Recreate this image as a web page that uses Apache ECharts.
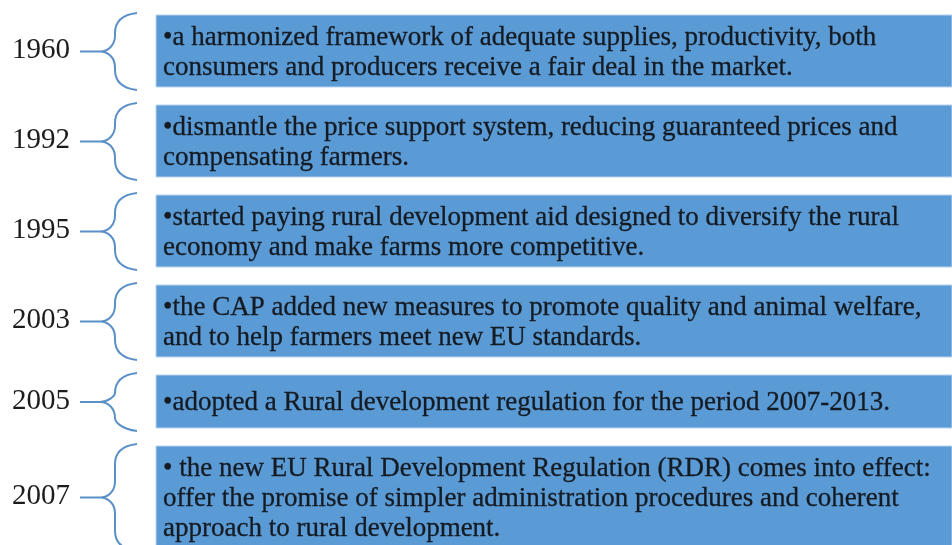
<!DOCTYPE html>
<html>
<head>
<meta charset="utf-8">
<script src="https://cdn.jsdelivr.net/npm/echarts@6/dist/echarts.min.js"></script>
<style>
  html, body { margin: 0; padding: 0; background: #fff; }
  #chart { width: 952px; height: 545px; }
</style>
</head>
<body>
<div id="chart"></div>
<script>
// 时间轴数据
const years = ['1960', '1992', '1995', '2003', '2005', '2007'];
const events = [
    '•a harmonized framework of adequate supplies, productivity, both\nconsumers and producers receive a fair deal in the market.',
    '•dismantle the price support system, reducing guaranteed prices and\ncompensating farmers.',
    '•started paying rural development aid designed to diversify the rural\neconomy and make farms more competitive.',
    '•the CAP added new measures to promote quality and animal welfare,\nand to help farmers meet new EU standards.',
    '•adopted a Rural development regulation for the period 2007-2013.',
    '• the new EU Rural Development Regulation (RDR) comes into effect:\noffer the promise of simpler administration procedures and coherent\napproach to rural development.'
];

// 布局（以像素为单位的坐标轴）
const W = 952, H = 545;
const BOX_LEFT = 156, BOX_RIGHT = 952, GAP = 18, FIRST_TOP = 15, LINE_H = 30;
const boxHeight = (n) => n === 1 ? 53 : LINE_H * n + 12;

const tops = [];
const heights = [];
let cur = FIRST_TOP;
events.forEach(t => {
    const h = boxHeight(t.split('\n').length);
    tops.push(cur);
    heights.push(h);
    cur += h + GAP;
});

// 花括号路径
function bracePath(api, yt, yb) {
    const yc = (yt + yb) / 2;
    const P = (x, y) => api.coord([x, y]).join(' ');
    const upper = Math.max(yt + 20, yc - 16);
    const lower = Math.min(yb - 20, yc + 16) < yc + 16 ? yc + 16 : yb - 20;
    return 'M' + P(137, yt) +
        ' C' + P(120, yt + 2) + ' ' + P(115, yt + 10) + ' ' + P(115, yt + 20) +
        ' L' + P(115, upper) +
        ' C' + P(115, yc - 6) + ' ' + P(108, yc) + ' ' + P(100, yc) +
        ' C' + P(108, yc) + ' ' + P(115, yc + 6) + ' ' + P(115, yc + 16) +
        ' L' + P(115, Math.max(lower, yc + 16)) +
        ' C' + P(115, yb - 10) + ' ' + P(120, yb - 2) + ' ' + P(137, yb) +
        ' M' + P(80, yc) + ' L' + P(100, yc);
}

const chart = echarts.init(document.getElementById('chart'));
chart.setOption({
    animation: false,
    grid: { left: 0, right: 0, top: 0, bottom: 0 },
    xAxis: { type: 'value', min: 0, max: W, show: false },
    yAxis: { type: 'value', min: 0, max: H, inverse: true, show: false },
    series: [{
        type: 'custom',
        coordinateSystem: 'cartesian2d',
        data: years.map((y, i) => [i]),
        clip: true,
        renderItem: (params, api) => {
            const i = api.value(0);
            const top = tops[i], h = heights[i];
            const p0 = api.coord([BOX_LEFT, top]);
            const p1 = api.coord([BOX_RIGHT, top + h]);
            const yc = top + h / 2 + 0.5;
            return {
                type: 'group',
                children: [
                    {
                        type: 'rect',
                        shape: { x: p0[0], y: p0[1], width: p1[0] - p0[0], height: p1[1] - p0[1] },
                        style: { fill: '#5b9bd5', stroke: '#b9d3ee', lineWidth: 1 }
                    },
                    {
                        type: 'text',
                        style: {
                            text: events[i],
                            x: api.coord([163, 0])[0],
                            y: api.coord([0, yc + 1])[1],
                            fill: '#151b23',
                            stroke: '#151b23',
                            lineWidth: 0.3,
                            font: '27px "Liberation Serif"',
                            lineHeight: LINE_H,
                            align: 'left',
                            verticalAlign: 'middle'
                        }
                    },
                    {
                        type: 'path',
                        shape: { pathData: bracePath(api, top - 2, top + h + 3) },
                        style: { fill: 'none', stroke: '#5b8fc8', lineWidth: 2 }
                    },
                    {
                        type: 'text',
                        style: {
                            text: years[i],
                            x: api.coord([12, 0])[0],
                            y: api.coord([0, yc - 1])[1],
                            fill: '#1c1c1c',
                            font: '29px "Liberation Serif"',
                            align: 'left',
                            verticalAlign: 'middle'
                        }
                    }
                ]
            };
        }
    }]
});
</script>
</body>
</html>
